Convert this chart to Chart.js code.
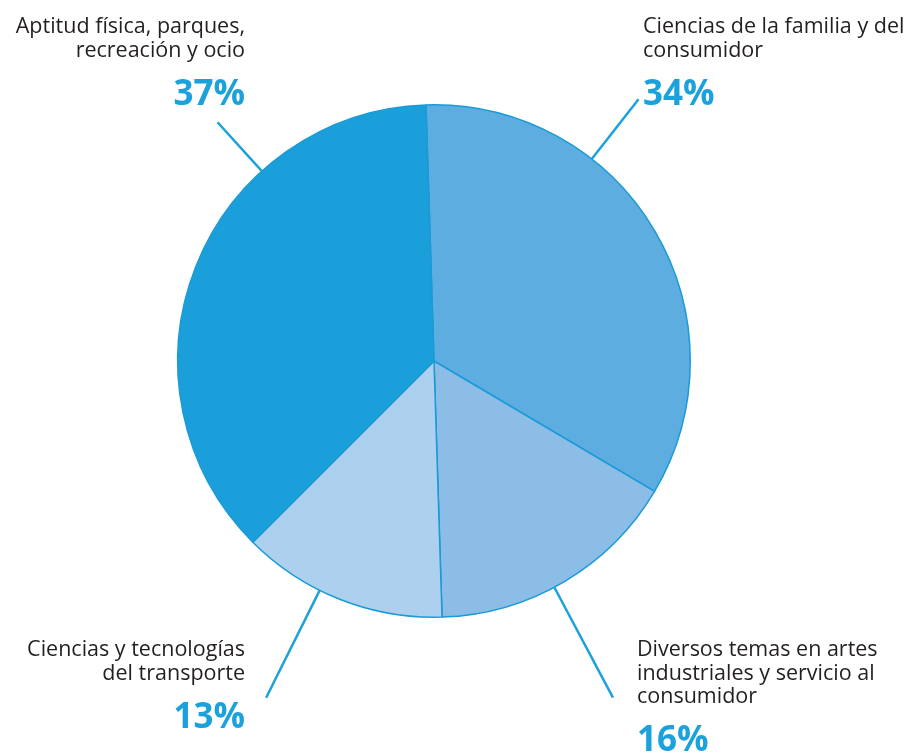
<!DOCTYPE html>
<html>
<head>
<meta charset="utf-8">
<script src="https://cdn.jsdelivr.net/npm/chart.js@4"></script>
<style>
    html, body { margin: 0; padding: 0; background: #fff; }
    .wrap { width: 916px; height: 753px; position: relative; }
</style>
</head>
<body>
<div class="wrap"><canvas id="pieChart" width="916" height="753"></canvas></div>
<script>
// data, clockwise from the top
const categories = [
    ['Ciencias de la familia y del', 'consumidor'],
    ['Diversos temas en artes', 'industriales y servicio al', 'consumidor'],
    ['Ciencias y tecnologías', 'del transporte'],
    ['Aptitud física, parques,', 'recreación y ocio']
];
const percentages = [34, 16, 13, 37];
const sliceColors = ['#5dade0', '#8bbde6', '#add0ef', '#1b9fdb'];

// leader line angle (deg from top, clockwise) and how far it reaches past the rim
const leaderAngles = [38, 152, 206.5, 317.8];
const leaderLengths = [76, 125, 120, 66];
// where each label sits: [x, first baseline, align]
const labelSpots = [
    [643, 33, 'left'],
    [637, 656, 'left'],
    [245, 656, 'right'],
    [245, 33, 'right']
];

const textColor = '#231f20';
const accent = '#1ba1dc';

const calloutPlugin = {
    id: 'callouts',
    afterDatasetsDraw(chart) {
        const ctx = chart.ctx;
        const arcs = chart.getDatasetMeta(0).data;
        ctx.save();
        arcs.forEach((arc, i) => {
            const a = leaderAngles[i] * Math.PI / 180;
            const r0 = arc.outerRadius;
            const r1 = r0 + leaderLengths[i];
            ctx.beginPath();
            ctx.moveTo(arc.x + r0 * Math.sin(a), arc.y - r0 * Math.cos(a));
            ctx.lineTo(arc.x + r1 * Math.sin(a), arc.y - r1 * Math.cos(a));
            ctx.strokeStyle = accent;
            ctx.lineWidth = 2.5;
            ctx.stroke();

            const [x, y, align] = labelSpots[i];
            ctx.textAlign = align;
            ctx.textBaseline = 'alphabetic';
            ctx.fillStyle = textColor;
            ctx.font = '21.5px "Open Sans"';
            const lines = categories[i];
            lines.forEach((line, k) => {
                ctx.fillText(line, x, y + k * 23.5);
            });
            ctx.fillStyle = accent;
            ctx.font = 'bold 35px "Open Sans"';
            ctx.fillText(percentages[i] + '%', x, y + (lines.length - 1) * 23.5 + 48);
        });
        ctx.restore();
    }
};

new Chart(document.getElementById('pieChart'), {
    type: 'pie',
    data: {
        labels: categories.map(c => c.join(' ')),
        datasets: [{
            data: percentages,
            backgroundColor: sliceColors,
            borderColor: '#1a9ad6',
            borderWidth: 1.5
        }]
    },
    options: {
        responsive: false,
        animation: false,
        rotation: -1.8,
        layout: {
            padding: { top: 104, bottom: 135, left: 177, right: 225 }
        },
        plugins: {
            legend: { display: false },
            tooltip: { enabled: false }
        }
    },
    plugins: [calloutPlugin]
});
</script>
</body>
</html>
